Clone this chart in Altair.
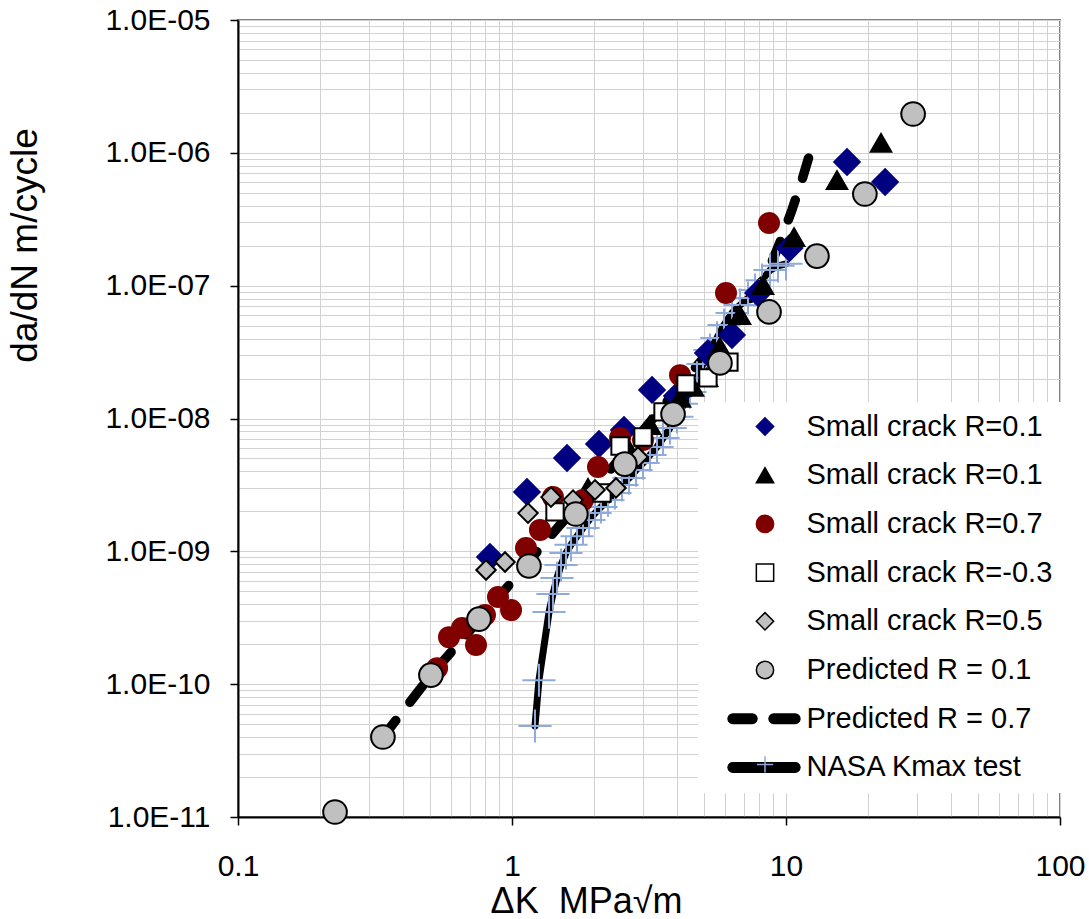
import math
import altair as alt
import pandas as pd

# ---------------- data ----------------
S_DIA = "Small crack R=0.1"
S_TRI = "Small crack R=0.1 "          # same visible label, second series
S_RED = "Small crack R=0.7"
S_SQ = "Small crack R=-0.3"
S_GDIA = "Small crack R=0.5"
S_P01 = "Predicted R = 0.1"
S_P07 = "Predicted R = 0.7"
S_NASA = "NASA Kmax test"

dia_K = [0.831, 1.134, 1.588, 2.077, 2.563, 3.244, 4.00, 5.19, 6.35, 7.91, 10.3, 16.7, 23.0]
dia_da = [9.06e-10, 2.80e-9, 5.04e-9, 6.43e-9, 8.19e-9, 1.64e-8, 1.48e-8, 3.11e-8, 4.25e-8,
          8.81e-8, 1.92e-7, 8.53e-7, 6.03e-7]

tri_K = [1.459, 1.894, 2.651, 3.189, 4.104, 4.577, 5.149, 5.741, 6.795, 8.244, 10.70, 15.35, 22.22]
tri_da = [2.05e-9, 3.00e-9, 6.00e-9, 8.93e-9, 1.43e-8, 1.73e-8, 2.05e-8, 3.45e-8, 6.01e-8,
          1.01e-7, 2.32e-7, 6.24e-7, 1.19e-6]

red_K = [0.533, 0.589, 0.657, 0.739, 0.797, 0.889, 0.992, 1.125, 1.265, 1.411, 1.816, 2.060,
         2.479, 3.007, 4.104, 6.04, 8.67]
red_da = [1.32e-10, 2.26e-10, 2.65e-10, 1.97e-10, 3.32e-10, 4.53e-10, 3.61e-10, 1.06e-9,
          1.45e-9, 2.56e-9, 2.43e-9, 4.31e-9, 7.13e-9, 6.89e-9, 2.12e-8, 8.81e-8, 2.96e-7]

sq_K = [1.435, 2.130, 2.479, 3.007, 3.557, 4.315, 5.19, 6.19]
sq_da = [1.98e-9, 2.75e-9, 6.21e-9, 7.26e-9, 1.12e-8, 1.82e-8, 2.02e-8, 2.66e-8]

gdia_K = [0.804, 0.943, 1.144, 1.388, 1.670, 2.009, 2.397, 2.884]
gdia_da = [7.23e-10, 8.31e-10, 1.94e-9, 2.56e-9, 2.43e-9, 2.90e-9, 3.00e-9, 5.13e-9]

p01_K = [0.226, 0.338, 0.506, 0.758, 1.153, 1.71, 2.58, 3.87, 5.74, 8.67, 12.97, 19.4, 29.1]
p01_da = [1.09e-11, 4.0e-11, 1.17e-10, 3.09e-10, 7.76e-10, 1.91e-9, 4.54e-9, 1.08e-8,
          2.62e-8, 6.34e-8, 1.67e-7, 4.90e-7, 1.96e-6]

p07_K = [0.338, 0.506, 0.758, 0.943, 1.163, 1.497, 2.28, 3.47, 4.86, 6.80, 8.04, 8.89, 9.67,
         10.51, 11.44, 12.55]
p07_da = [4.0e-11, 1.17e-10, 3.04e-10, 5.12e-10, 8.61e-10, 1.58e-9, 4.09e-9, 1.16e-8,
          2.66e-8, 6.34e-8, 1.01e-7, 1.51e-7, 2.32e-7, 3.71e-7, 6.24e-7, 1.19e-6]

nasa_K = [1.213, 1.254, 1.365, 1.411, 1.459, 1.510, 1.574, 1.642, 1.727, 1.816, 1.910, 2.009,
          2.113, 2.240, 2.376, 2.520, 2.673, 2.835, 3.007, 3.189, 3.382, 3.557, 3.773, 4.002,
          4.244, 4.463, 4.733, 4.978, 5.280, 5.600, 5.939, 6.353, 6.795, 7.266, 7.707, 8.174,
          8.742, 9.350, 10.0]
nasa_da = [4.84e-11, 1.07e-10, 3.49e-10, 4.77e-10, 6.30e-10, 7.88e-10, 9.71e-10, 1.12e-9,
           1.30e-9, 1.50e-9, 1.72e-9, 1.94e-9, 2.16e-9, 2.43e-9, 2.75e-9, 3.16e-9, 3.56e-9,
           4.09e-9, 4.62e-9, 5.31e-9, 6.10e-9, 7.13e-9, 8.48e-9, 1.03e-8, 1.29e-8, 1.58e-8,
           2.02e-8, 2.57e-8, 3.28e-8, 4.04e-8, 5.06e-8, 6.22e-8, 7.15e-8, 8.07e-8, 9.27e-8,
           1.10e-7, 1.31e-7, 1.41e-7, 1.46e-7]

# ---------------- table ----------------
parts = []
for name, ks, ds in [(S_DIA, dia_K, dia_da), (S_TRI, tri_K, tri_da), (S_RED, red_K, red_da),
                     (S_SQ, sq_K, sq_da), (S_GDIA, gdia_K, gdia_da), (S_P01, p01_K, p01_da),
                     (S_P07, p07_K, p07_da), (S_NASA, nasa_K, nasa_da)]:
    parts.append(pd.DataFrame({"series": name, "K": ks, "dadN": ds}))
df = pd.concat(parts, ignore_index=True)

# grid positions (1..9 x decade)
x_grid = [float(f"{m}e{e}") for e in (-1, 0, 1) for m in range(1, 10)] + [100.0]
y_grid = [float(f"{m}e{e}") for e in range(-11, -5) for m in range(1, 10)] + [1e-5]

MAJ = "abs(log(datum.value)/LN10 - round(log(datum.value)/LN10)) < 0.001"
FONT = "Liberation Sans"

x_axis = alt.Axis(
    values=x_grid, labelExpr=f"{MAJ} ? toString(datum.value) : ''",
    tickOpacity={"condition": {"test": MAJ, "value": 1}, "value": 0},
    tickSize=8, tickColor="black", tickWidth=1.5,
    grid=True, gridColor="#d2d2d2", gridWidth=1,
    domainColor="black", domainWidth=2,
    labelFont=FONT, labelFontSize=30, labelColor="black", labelPadding=26,
    labelOverlap=False, labelFlush=False,
    title="ΔK \u00a0MPa√m", titleFont=FONT, titleFontSize=36, titleFontWeight="normal",
    titleColor="black", titleX=348, titleY=95, titleAlign="center", titleBaseline="alphabetic",
)
y_axis = alt.Axis(
    values=y_grid,
    labelExpr=(f"{MAJ} ? '1.0E-' + (round(-log(datum.value)/LN10) < 10 ? '0' : '') + "
               "round(-log(datum.value)/LN10) : ''"),
    tickOpacity={"condition": {"test": MAJ, "value": 1}, "value": 0},
    tickSize=8, tickColor="black", tickWidth=1.5,
    grid=True, gridColor="#d2d2d2", gridWidth=1,
    domainColor="black", domainWidth=2,
    labelFont=FONT, labelFontSize=30, labelColor="black", labelPadding=20,
    labelOverlap=False, labelFlush=False,
    title="da/dN m/cycle", titleFont=FONT, titleFontSize=37, titleFontWeight="normal",
    titleColor="black", titleX=-213, titleY=225, titleAngle=270, titleAlign="center",
    titleBaseline="middle",
)

X = alt.X("K:Q", scale=alt.Scale(type="log", domain=[0.1, 100]), axis=x_axis)
Y = alt.Y("dadN:Q", scale=alt.Scale(type="log", domain=[1e-11, 1e-5]), axis=y_axis)


# legend symbols for the two line series: rounded bars drawn as polygons
def capsule(a, b, r, n=6):
    pts = []
    for i in range(n + 1):
        ang = -math.pi / 2 + math.pi * i / n
        pts.append((b - r + r * math.cos(ang), r * math.sin(ang)))
    for i in range(n + 1):
        ang = math.pi / 2 + math.pi * i / n
        pts.append((a + r + r * math.cos(ang), r * math.sin(ang)))
    return "M" + "L".join(f"{x:.3f},{y:.3f}" for x, y in pts) + "Z"


R_CAP = 0.55
dash_path = capsule(-4.27, -0.92, R_CAP) + capsule(0.46, 4.04, R_CAP)
bar_path = capsule(-4.27, 4.04, R_CAP)
CROSS = "M-1,0L1,0M0,-1L0,1"

domain = [S_DIA, S_TRI, S_RED, S_SQ, S_GDIA, S_P01, S_P07, S_NASA]
shapes = ["diamond", "triangle-up", "circle", "square", "diamond", "circle", dash_path, bar_path]
fills = ["#000080", "#000000", "#800000", "#ffffff", "#c0c0c0", "#c0c0c0", "#000000", "#000000"]
strokes = ["#000080", "#000000", "#800000", "#000000", "#000000", "#000000", "#000000", "#000000"]
marker_size = {S_DIA: 650, S_TRI: 420, S_RED: 400, S_SQ: 300, S_GDIA: 380, S_P01: 560}

LEG_X, LEG_Y, ROW_PAD = 460, 382, 18.7

legend = alt.Legend(
    orient="none", legendX=LEG_X, legendY=LEG_Y, padding=10, fillColor="white",
    title=None, labelFont=FONT, labelFontSize=29, labelColor="black", labelLimit=500,
    symbolSize=300, symbolStrokeWidth=1.5, symbolOffset=42.5, labelOffset=27,
    rowPadding=ROW_PAD,
)

# small blue "+" drawn on top of the NASA legend bar (its own one-entry legend)
cross_legend = alt.Legend(
    orient="none", legendX=LEG_X, legendY=LEG_Y + 7 * (29 + ROW_PAD) + 4, padding=10,
    title=None, labelFont=FONT, labelFontSize=29, labelExpr="''",
    symbolType=CROSS, symbolSize=260, symbolStrokeWidth=1.5,
    symbolStrokeColor="#8faadc", symbolFillColor="transparent",
    symbolOffset=42.5, labelOffset=27,
)

base = alt.Chart(df)

nasa_line = base.transform_filter(alt.datum.series == S_NASA).mark_line(
    color="black", strokeWidth=7, strokeCap="round", strokeJoin="round"
).encode(x=X, y=Y)

p07_line = base.transform_filter(alt.datum.series == S_P07).mark_line(
    color="black", strokeWidth=9.5, strokeCap="round", strokeDash=[21, 23]
).encode(x=X, y=Y)

nasa_pts = base.transform_filter(alt.datum.series == S_NASA).mark_point(
    shape=CROSS, size=1100, stroke="#8faadc", strokeWidth=2,
    filled=False, opacity=1
).encode(x=X, y=Y)

layers = [nasa_line, p07_line, nasa_pts]
for s, sz in marker_size.items():
    enc = dict(
        x=X, y=Y,
        shape=alt.Shape("series:N", scale=alt.Scale(domain=domain, range=shapes), legend=legend),
        fill=alt.Fill("series:N", scale=alt.Scale(domain=domain, range=fills), legend=legend),
        stroke=alt.Stroke("series:N", scale=alt.Scale(domain=domain, range=strokes),
                          legend=legend),
    )
    layer = base.transform_filter(alt.datum.series == s)
    if s == S_P01:
        layer = layer.transform_calculate(tag="'+'")
        enc["opacity"] = alt.Opacity("tag:N", scale=alt.Scale(domain=["+"], range=[1]),
                                     legend=cross_legend)
    layers.append(
        layer.mark_point(filled=True, opacity=1, strokeWidth=2, size=sz).encode(**enc)
    )

chart = alt.layer(*layers).properties(
    width=822, height=797,
    padding={"left": 238, "top": 20, "right": 29, "bottom": 102},
    autosize=alt.AutoSizeParams(type="none"),
    background="white",
).configure_view(stroke="#808080", strokeWidth=2)

chart.save("out.html", embed_options={"renderer": "svg", "actions": False})
